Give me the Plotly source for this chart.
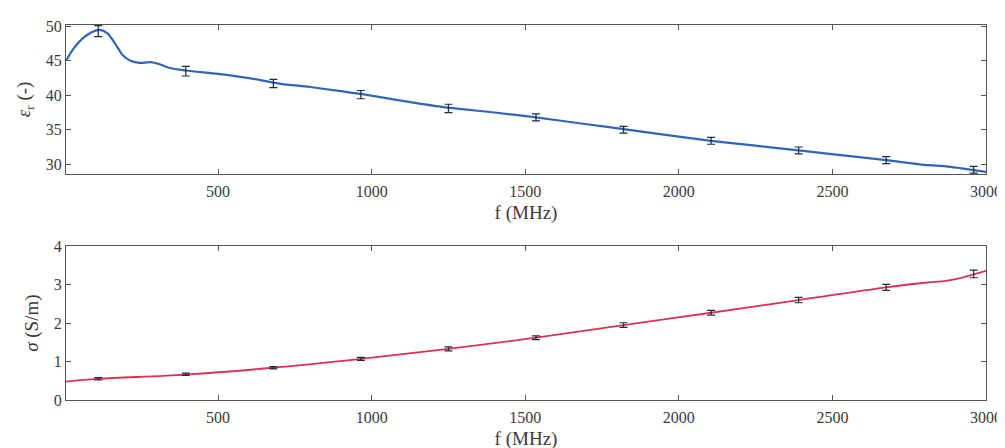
import plotly.graph_objects as go
from plotly.subplots import make_subplots

# permittivity curve
f_eps = [5, 30, 60, 90, 115, 140, 165, 190, 215, 245, 280, 310, 340, 395, 500, 600, 700, 800,
         900, 965, 1100, 1250, 1400, 1535, 1700, 1820, 2000, 2105, 2250, 2390, 2550, 2675,
         2800, 2870, 2920, 3000]
eps = [45.0, 46.8, 48.3, 49.2, 49.5, 49.0, 47.5, 45.8, 45.0, 44.7, 44.8, 44.5, 44.0, 43.6,
       43.1, 42.5, 41.7, 41.2, 40.6, 40.2, 39.2, 38.2, 37.5, 36.8, 35.8, 35.1, 34.0, 33.4,
       32.7, 32.0, 31.2, 30.6, 29.9, 29.7, 29.4, 28.9]

# conductivity curve
f_sig = [5, 110, 395, 680, 965, 1250, 1535, 1820, 2105, 2390, 2675, 2800, 2870, 2920, 3000]
sig = [0.48, 0.55, 0.66, 0.84, 1.07, 1.33, 1.62, 1.95, 2.27, 2.60, 2.93, 3.05, 3.10, 3.18, 3.36]

# error-bar points
f_err = [110, 395, 680, 965, 1250, 1535, 1820, 2105, 2390, 2675, 2960]
eps_err_val = [49.3, 43.5, 41.7, 40.1, 38.1, 36.8, 35.0, 33.4, 32.0, 30.6, 29.2]
eps_err = [0.8, 0.7, 0.6, 0.6, 0.6, 0.5, 0.5, 0.5, 0.5, 0.5, 0.5]
sig_err_val = [0.55, 0.67, 0.84, 1.07, 1.33, 1.62, 1.95, 2.27, 2.60, 2.93, 3.28]
sig_err = [0.03, 0.03, 0.03, 0.04, 0.05, 0.05, 0.06, 0.06, 0.07, 0.08, 0.10]

x_ticks = [500, 1000, 1500, 2000, 2500, 3000]

fig = make_subplots(rows=2, cols=1, vertical_spacing=0.19)

fig.add_trace(go.Scatter(x=f_eps, y=eps, mode="lines", line=dict(color="#3165b8", width=2.2, shape="spline", smoothing=0.8),
                         showlegend=False), row=1, col=1)
fig.add_trace(go.Scatter(x=f_err, y=eps_err_val, mode="markers", marker=dict(size=1, color="#1c2a44"),
                         error_y=dict(type="data", array=eps_err, color="#1c2a44", thickness=1.2, width=4),
                         showlegend=False), row=1, col=1)
fig.add_trace(go.Scatter(x=f_sig, y=sig, mode="lines", line=dict(color="#d8344f", width=1.8, shape="spline"),
                         showlegend=False), row=2, col=1)
fig.add_trace(go.Scatter(x=f_err, y=sig_err_val, mode="markers", marker=dict(size=1, color="#1c2a44"),
                         error_y=dict(type="data", array=sig_err, color="#1c2a44", thickness=1.2, width=4),
                         showlegend=False), row=2, col=1)

font = dict(family="Liberation Serif", size=16, color="#3a3a3a")
tfont = dict(family="Liberation Serif", size=19, color="#3a3a3a")
axcommon = dict(showline=True, linecolor="#555", linewidth=1, mirror="ticks", ticks="inside",
                ticklen=5, tickcolor="#555", showgrid=False, zeroline=False, tickfont=font)

fig.update_xaxes(range=[5, 3000], tickvals=x_ticks, ticklabelstandoff=3,
                 title=dict(text="f (MHz)", font=tfont, standoff=6), **axcommon)
fig.update_yaxes(**axcommon)
fig.update_yaxes(range=[28.6, 50.2], tickvals=[30, 35, 40, 45, 50],
                 title=dict(text="<i>ε</i><sub>r</sub> (-)", font=tfont, standoff=10),
                 row=1, col=1)
fig.update_yaxes(range=[0, 4], tickvals=[0, 1, 2, 3, 4],
                 title=dict(text="<i>σ</i> (S/m)", font=tfont, standoff=10),
                 row=2, col=1)

fig.update_layout(width=1005, height=448, margin=dict(l=58, r=27, t=9, b=56),
                  paper_bgcolor="white", plot_bgcolor="white",
                  xaxis=dict(domain=[0, 1]), yaxis=dict(domain=[0.603, 1.0]),
                  yaxis2=dict(domain=[0.0, 0.410]))

fig.write_html("out.html")
